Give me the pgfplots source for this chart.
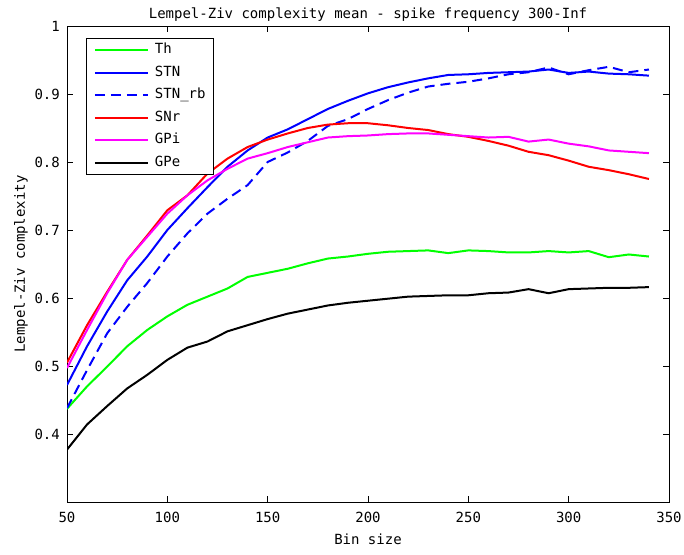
\documentclass[border=0pt]{standalone}
\usepackage{fontspec}
\setmainfont{DejaVu Sans Mono}
\usepackage{pgfplots}
\pgfplotsset{compat=1.18}
\newcommand{\mf}{\fontsize{14bp}{17bp}\selectfont}
\begin{document}
\mf
\begin{tikzpicture}
\path[use as bounding box] (0,0) rectangle (684bp,555bp);
\begin{axis}[
  at={(67bp,53bp)}, anchor=south west,
  width=602bp, height=476bp, scale only axis,
  xmin=50, xmax=350, ymin=0.3, ymax=1,
  xtick={50,100,150,200,250,300,350},
  ytick={0.4,0.5,0.6,0.7,0.8,0.9,1},
  tick pos=both, tick align=inside,
  major tick length=6bp,
  axis line style={black, line width=0.8bp},
  every tick/.style={black, line width=0.8bp},
  /pgf/number format/assume math mode=true,
  every tick label/.append style={font=\mf},
  yticklabel style={inner sep=0pt, xshift=-7bp},
  xticklabel style={inner sep=0pt, yshift=-9.7bp},
  title={Lempel-Ziv complexity mean - spike frequency 300-Inf},
  every axis title/.style={at={(axis description cs:0.5,1.0162)}, anchor=base, inner sep=0pt, font=\mf},
  xlabel={Bin size},
  every axis x label/.style={at={(axis description cs:0.5,-0.0903)}, anchor=base, inner sep=0pt, font=\mf},
  ylabel={Lempel-Ziv complexity},
  every axis y label/.style={at={(axis description cs:-0.0698,0.5)}, rotate=90, anchor=base, inner sep=0pt, font=\mf},
  legend style={at={(axis description cs:0.031,0.974)}, anchor=north west,
    draw=black, line width=0.6bp, inner xsep=8bp, inner ysep=0pt,
    row sep=0pt, column sep=6bp, font=\mf,
    nodes={inner sep=0pt, text height=10bp, text depth=3bp, minimum height=22.6bp},
    cells={anchor=west}},
  legend image code/.code={\draw[#1] (0bp,0bp) -- (53bp,0bp);},
]
\addplot[color={rgb,1:red,0;green,1;blue,0}, line width=2bp] coordinates {
(50,0.437) (60,0.470) (70,0.499) (80,0.529) (90,0.553) (100,0.573) (110,0.590) (120,0.602) (130,0.614) (140,0.631)
(150,0.637) (160,0.643) (170,0.651) (180,0.658) (190,0.661) (200,0.665) (210,0.668) (220,0.669) (230,0.670) (240,0.666)
(250,0.670) (260,0.669) (270,0.667) (280,0.667) (290,0.669) (300,0.667) (310,0.669) (320,0.660) (330,0.664) (340,0.661)};
\addlegendentry{Th}
\addplot[color={rgb,1:red,0;green,0;blue,1}, line width=2bp] coordinates {
(50,0.472) (60,0.529) (70,0.580) (80,0.626) (90,0.661) (100,0.700) (110,0.732) (120,0.763) (130,0.793) (140,0.817)
(150,0.836) (160,0.848) (170,0.863) (180,0.878) (190,0.890) (200,0.901) (210,0.910) (220,0.917) (230,0.923) (240,0.928)
(250,0.929) (260,0.931) (270,0.932) (280,0.933) (290,0.936) (300,0.931) (310,0.933) (320,0.930) (330,0.929) (340,0.927)};
\addlegendentry{STN}
\addplot[color={rgb,1:red,0;green,0;blue,1}, line width=2bp, dash pattern=on 10bp off 6bp] coordinates {
(50,0.438) (60,0.494) (70,0.548) (80,0.587) (90,0.622) (100,0.661) (110,0.695) (120,0.724) (130,0.746) (140,0.766)
(150,0.800) (160,0.814) (170,0.831) (180,0.853) (190,0.863) (200,0.878) (210,0.891) (220,0.902) (230,0.911) (240,0.915)
(250,0.918) (260,0.923) (270,0.929) (280,0.932) (290,0.939) (300,0.929) (310,0.935) (320,0.940) (330,0.932) (340,0.936)};
\addlegendentry{STN\_rb}
\addplot[color={rgb,1:red,1;green,0;blue,0}, line width=2bp] coordinates {
(50,0.505) (60,0.560) (70,0.609) (80,0.656) (90,0.692) (100,0.729) (110,0.751) (120,0.783) (130,0.805) (140,0.822)
(150,0.833) (160,0.842) (170,0.850) (180,0.855) (190,0.857) (200,0.857) (210,0.854) (220,0.850) (230,0.847) (240,0.841)
(250,0.837) (260,0.831) (270,0.824) (280,0.815) (290,0.810) (300,0.802) (310,0.793) (320,0.788) (330,0.782) (340,0.775)};
\addlegendentry{SNr}
\addplot[color={rgb,1:red,1;green,0;blue,1}, line width=2bp] coordinates {
(50,0.497) (60,0.553) (70,0.607) (80,0.656) (90,0.690) (100,0.724) (110,0.751) (120,0.773) (130,0.790) (140,0.805)
(150,0.813) (160,0.822) (170,0.829) (180,0.836) (190,0.838) (200,0.839) (210,0.841) (220,0.842) (230,0.842) (240,0.840)
(250,0.838) (260,0.836) (270,0.837) (280,0.830) (290,0.833) (300,0.827) (310,0.823) (320,0.817) (330,0.815) (340,0.813)};
\addlegendentry{GPi}
\addplot[color=black, line width=2bp] coordinates {
(50,0.377) (60,0.414) (70,0.441) (80,0.467) (90,0.487) (100,0.509) (110,0.527) (120,0.536) (130,0.551) (140,0.560)
(150,0.569) (160,0.577) (170,0.583) (180,0.589) (190,0.593) (200,0.596) (210,0.599) (220,0.602) (230,0.603) (240,0.604)
(250,0.604) (260,0.607) (270,0.608) (280,0.613) (290,0.607) (300,0.613) (310,0.614) (320,0.615) (330,0.615) (340,0.616)};
\addlegendentry{GPe}
\end{axis}
\end{tikzpicture}
\end{document}
